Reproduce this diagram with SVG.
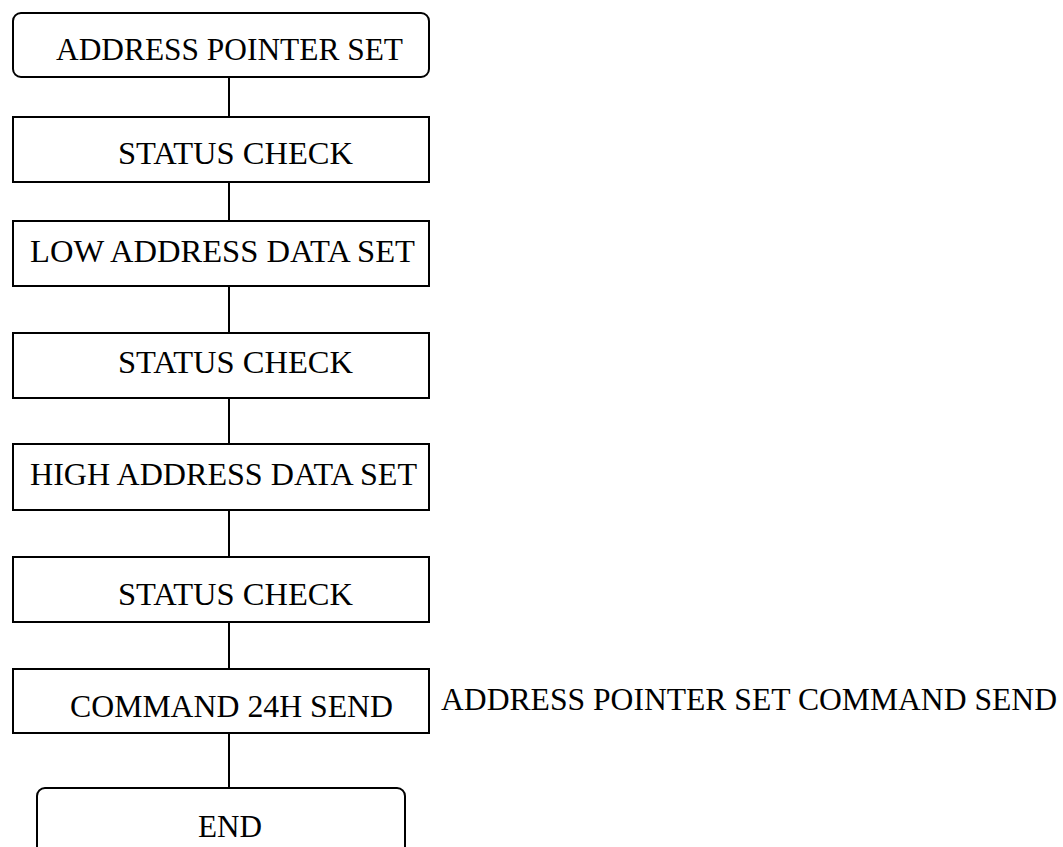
<svg xmlns="http://www.w3.org/2000/svg" width="1063" height="847" viewBox="0 0 1063 847">
<style>
.box{fill:#fff;stroke:#000;stroke-width:2}
.t{font-family:"Liberation Serif","Times New Roman",serif;font-size:32px;fill:#000}
.c{stroke:#000;stroke-width:2;fill:none}
</style>
<rect width="1063" height="847" fill="#fff"/>
<g id="connectors">
<line class="c" x1="229" y1="77" x2="229" y2="117"/>
<line class="c" x1="229" y1="182" x2="229" y2="221"/>
<line class="c" x1="229" y1="286" x2="229" y2="333"/>
<line class="c" x1="229" y1="398" x2="229" y2="444"/>
<line class="c" x1="229" y1="510" x2="229" y2="557"/>
<line class="c" x1="229" y1="622" x2="229" y2="669"/>
<line class="c" x1="229" y1="733" x2="229" y2="788"/>
</g>
<g id="n1"><rect class="box" x="13" y="13" width="416" height="64" rx="8"/><text class="t" x="56" y="60" textLength="347" lengthAdjust="spacingAndGlyphs">ADDRESS POINTER SET</text></g>
<g id="n2"><rect class="box" x="13" y="117" width="416" height="65"/><text class="t" x="118" y="164" textLength="235" lengthAdjust="spacingAndGlyphs">STATUS CHECK</text></g>
<g id="n3"><rect class="box" x="13" y="221" width="416" height="65"/><text class="t" x="30" y="262" textLength="385" lengthAdjust="spacingAndGlyphs">LOW ADDRESS DATA SET</text></g>
<g id="n4"><rect class="box" x="13" y="333" width="416" height="65"/><text class="t" x="118" y="373" textLength="235" lengthAdjust="spacingAndGlyphs">STATUS CHECK</text></g>
<g id="n5"><rect class="box" x="13" y="444" width="416" height="66"/><text class="t" x="30" y="485" textLength="387" lengthAdjust="spacingAndGlyphs">HIGH ADDRESS DATA SET</text></g>
<g id="n6"><rect class="box" x="13" y="557" width="416" height="65"/><text class="t" x="118" y="605" textLength="235" lengthAdjust="spacingAndGlyphs">STATUS CHECK</text></g>
<g id="n7"><rect class="box" x="13" y="669" width="416" height="64"/><text class="t" x="70" y="717" textLength="323" lengthAdjust="spacingAndGlyphs">COMMAND 24H SEND</text></g>
<g id="label"><text class="t" x="441" y="710" textLength="616" lengthAdjust="spacingAndGlyphs">ADDRESS POINTER SET COMMAND SEND</text></g>
<g id="n8"><rect class="box" x="37" y="788" width="368" height="80" rx="8"/><text class="t" x="198" y="837" textLength="64" lengthAdjust="spacingAndGlyphs">END</text></g>
</svg>
